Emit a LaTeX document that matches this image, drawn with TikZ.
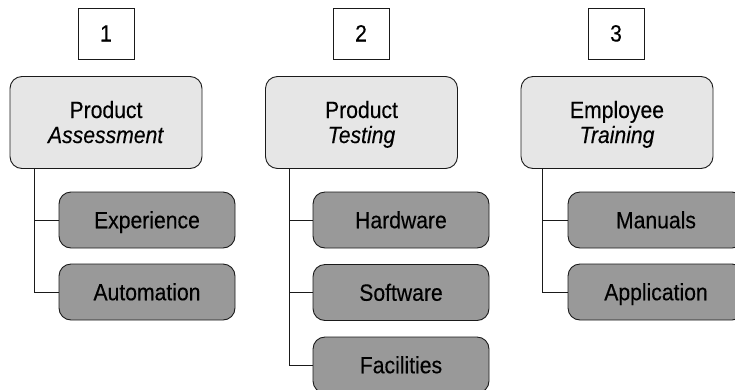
\documentclass[tikz,border=0pt]{standalone}
\usepackage{fontspec}
\setmainfont{Liberation Sans}[FakeStretch=0.9,FakeBold=0.25]
\definecolor{topfill}{HTML}{E6E6E6}
\definecolor{subfill}{HTML}{999999}
\definecolor{edge}{HTML}{1A1A1A}
\tikzset{
  numbox/.style={draw=edge, line width=0.9pt, fill=white, minimum width=56pt, minimum height=51pt, inner sep=0pt, text height=16pt, text depth=0pt},
  topbox/.style={draw=edge, line width=0.9pt, fill=topfill, rounded corners=12pt, minimum width=192pt, minimum height=92pt, align=center, inner sep=0pt, text height=41pt, text depth=0pt},
  subbox/.style={draw=edge, line width=0.9pt, fill=subfill, rounded corners=12pt, minimum width=176pt, minimum height=56pt, inner sep=0pt, text height=16.5pt, text depth=0pt},
  link/.style={draw=edge, line width=0.9pt}
}
\begin{document}
\begin{tikzpicture}[x=1pt,y=-1pt,font=\fontsize{23.5}{25}\selectfont]
\useasboundingbox (0,0) rectangle (735,389);
\clip (0,0) rectangle (735,389);
% column 1
\node[numbox] (n1) at (106,33.5) {1};
\node[topbox] (t1) at (106,122.5) {Product\\\textit{Assessment}};
\node[subbox] (s11) at (147,220) {Experience};
\node[subbox] (s12) at (147,292) {Automation};
\coordinate (c1) at ([xshift=25pt]t1.south west);
\draw[link] (c1) |- (s11.west);
\draw[link] (c1) |- (s12.west);
% column 2
\node[numbox] (n2) at (361,33.5) {2};
\node[topbox] (t2) at (361.5,122.5) {Product\\\textit{Testing}};
\node[subbox] (s21) at (401,220) {Hardware};
\node[subbox] (s22) at (401,292.5) {Software};
\node[subbox] (s23) at (401,365) {Facilities};
\coordinate (c2) at ([xshift=24pt]t2.south west);
\draw[link] (c2) |- (s21.west);
\draw[link] (c2) |- (s22.west);
\draw[link] (c2) |- (s23.west);
% column 3
\node[numbox] (n3) at (616,33.5) {3};
\node[topbox] (t3) at (617,122.5) {Employee\\\textit{Training}};
\node[subbox] (s31) at (656,220) {Manuals};
\node[subbox] (s32) at (656,292) {Application};
\coordinate (c3) at ([xshift=22pt]t3.south west);
\draw[link] (c3) |- (s31.west);
\draw[link] (c3) |- (s32.west);
\end{tikzpicture}
\end{document}
